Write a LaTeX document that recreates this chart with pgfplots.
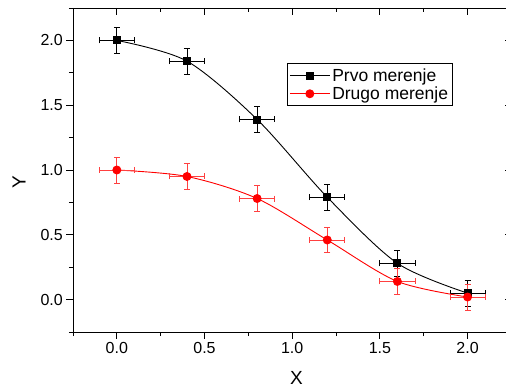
\documentclass[border=0pt]{standalone}
\usepackage{fontspec}
\setmainfont{Liberation Sans}
\usepackage{pgfplots}
\usepackage{pgfplotstable}
\pgfplotsset{compat=1.18}

\pgfplotstableread{
x y ex ey
0.0 2.00 0.1 0.1
0.4 1.84 0.1 0.1
0.8 1.39 0.1 0.1
1.2 0.79 0.1 0.1
1.6 0.28 0.1 0.1
2.0 0.05 0.1 0.1
}\prvo

\pgfplotstableread{
x y ex ey
0.0 1.00 0.1 0.1
0.4 0.95 0.1 0.1
0.8 0.78 0.1 0.1
1.2 0.46 0.1 0.1
1.6 0.14 0.1 0.1
2.0 0.02 0.1 0.1
}\drugo

\begin{document}
\begin{tikzpicture}
\pgfplotsset{
  common/.style={
    scale only axis, width=438.4bp, height=324bp,
    xmin=-0.25, xmax=2.25, ymin=-0.25, ymax=2.25,
    xtick={0,0.5,1,1.5,2}, ytick={0,0.5,1,1.5,2},
    minor xtick={-0.25,0.25,0.75,1.25,1.75,2.25},
    minor ytick={-0.25,0.25,0.75,1.25,1.75,2.25},
    axis line style={line width=0.9bp, black},
    major tick length=6.7bp, minor tick length=4bp,
    every tick/.append style={line width=0.9bp, black},
  }
}
\begin{axis}[common,
  tick align=outside,
  xtick pos=left, ytick pos=left,
  /pgf/number format/assume math mode=true,
  xticklabel style={/pgf/number format/.cd, fixed, fixed zerofill, precision=1},
  yticklabel style={/pgf/number format/.cd, fixed, fixed zerofill, precision=1},
  tick label style={font=\fontsize{16bp}{19bp}\selectfont},
  xlabel={X}, ylabel={Y},
  label style={font=\fontsize{19bp}{22bp}\selectfont},
  x label style={at={(axis description cs:0.51,-0.142)}, anchor=center},
  y label style={at={(axis description cs:-0.123,0.463)}, anchor=center},
  legend style={at={(0.488,0.830)}, anchor=north west, draw=black, line width=0.9bp,
    font=\fontsize{17.5bp}{21bp}\selectfont, inner xsep=2bp, inner ysep=3bp,
    row sep=0bp, cells={anchor=west}},
  legend image code/.code={\draw[mark repeat=2,mark phase=2,#1] plot coordinates {(0bp,0bp) (20bp,0bp) (40bp,0bp)};},
]
\addplot[black, line width=0.9bp, smooth, mark=square*, mark size=3.5bp,
  mark options={solid, fill=black},
  error bars/.cd, x dir=both, x explicit, y dir=both, y explicit,
  error bar style={line width=0.9bp, black},
  error mark options={rotate=90, mark size=3bp, line width=0.9bp, black}]
  table[x=x, y=y, x error=ex, y error=ey] {\prvo};
\addlegendentry{Prvo merenje}
\addplot[red, line width=0.9bp, smooth, mark=*, mark size=4bp,
  mark options={solid, fill=red},
  error bars/.cd, x dir=both, x explicit, y dir=both, y explicit,
  error bar style={line width=0.9bp, red!75},
  error mark options={rotate=90, mark size=3bp, line width=0.9bp, red!75}]
  table[x=x, y=y, x error=ex, y error=ey] {\drugo};
\addlegendentry{Drugo merenje}
\coordinate (sw) at (rel axis cs:0,0);
\end{axis}
\begin{axis}[common,
  tick align=inside,
  xtick pos=right, ytick pos=right,
  xticklabels={}, yticklabels={},
]
\end{axis}
\pgfresetboundingbox
\path[use as bounding box] ([xshift=-73bp,yshift=-57bp]sw) rectangle ([xshift=433bp,yshift=332bp]sw);
\end{tikzpicture}
\end{document}
